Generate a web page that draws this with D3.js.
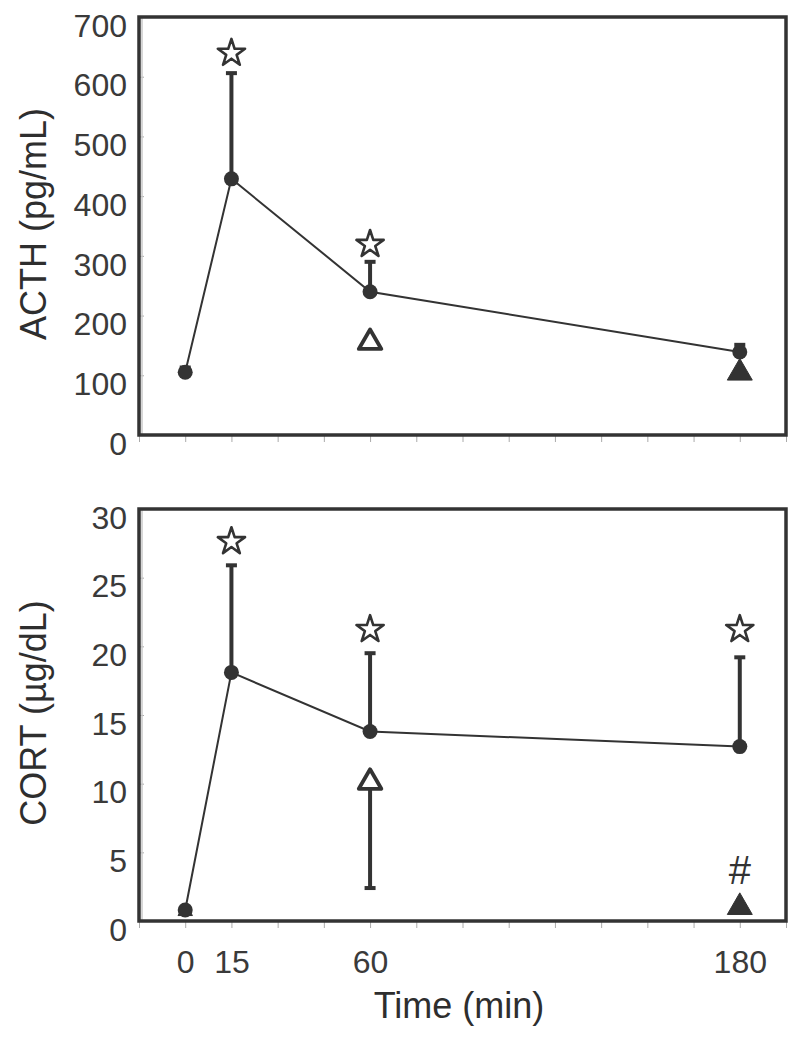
<!DOCTYPE html>
<html>
<head>
<meta charset="utf-8">
<script src="https://cdn.jsdelivr.net/npm/d3@7"></script>
<style>
  html, body { margin: 0; padding: 0; background: #fff; }
  svg { display: block; font-family: "Liberation Sans", Arial, Helvetica, sans-serif; }
</style>
</head>
<body>
<svg id="chart" width="800" height="1040"></svg>
<script>
// ---------- DATA ----------
const timeTicks = [-15, 0, 15, 30, 45, 60, 75, 90, 105, 120, 135, 150, 165, 180, 195];
const timeLabels = [0, 15, 60, 180];

const acthTicks = [0, 100, 200, 300, 400, 500, 600, 700];
const cortTicks = [0, 5, 10, 15, 20, 25, 30];

// main series (filled circles, connected)
const acthTimes = [0, 15, 60, 180];
const acthMean  = [105, 429, 240, 139];
const acthErr   = [113, 606, 290, 151];   // upper end of error bar

const cortTimes = [0, 15, 60, 180];
const cortMean  = [0.8, 18.1, 13.8, 12.7];
const cortErr   = [0.8, 25.9, 19.5, 19.2];

// second group (triangles)
const acthTriTimes  = [60, 180];
const acthTriVals   = [155, 104];
const acthTriFilled = [false, true];
const acthTriErr    = [155, 104];          // error end (none visible)

const cortTriTimes  = [0, 60, 180];
const cortTriVals   = [0.7, 10.1, 1.0];
const cortTriFilled = [true, false, true];
const cortTriErr    = [0.7, 2.4, 1.0];     // lower end of error bar

// significance markers
const acthStarTimes = [15, 60];
const acthStarVals  = [641, 321];
const cortStarTimes = [15, 60, 180];
const cortStarVals  = [27.7, 21.3, 21.3];
const cortHashTimes = [180];
const cortHashVals  = [2.7];

// ---------- LAYOUT ----------
const ink = "#333";
const svg = d3.select("#chart");
const x = d3.scaleLinear().domain([-15, 195]).range([139, 786]);

const panels = [
  { title: "ACTH (pg/mL)", ticks: acthTicks, dom: [0, 700], range: [435, 17],
    times: acthTimes, mean: acthMean, err: acthErr,
    triT: acthTriTimes, triV: acthTriVals, triF: acthTriFilled, triE: acthTriErr,
    starT: acthStarTimes, starV: acthStarVals, hashT: [], hashV: [], labels: false },
  { title: "CORT (\u00B5g/dL)", ticks: cortTicks, dom: [0, 30], range: [921, 509],
    times: cortTimes, mean: cortMean, err: cortErr,
    triT: cortTriTimes, triV: cortTriVals, triF: cortTriFilled, triE: cortTriErr,
    starT: cortStarTimes, starV: cortStarVals, hashT: cortHashTimes, hashV: cortHashVals, labels: true }
];

panels.forEach(p => {
  const y = d3.scaleLinear().domain(p.dom).range(p.range);
  const g = svg.append("g");
  const x0 = x.range()[0], x1 = x.range()[1];
  const yb = y.range()[0], yt = y.range()[1];

  // y ticks (small, inside) + labels
  const yAxis = d3.axisLeft(y).tickValues(p.ticks).tickSizeInner(-5).tickSizeOuter(0).tickPadding(12);
  const ya = g.append("g").attr("transform", `translate(${x0},0)`).call(yAxis);
  ya.select(".domain").remove();
  ya.selectAll(".tick line").attr("stroke", "#aaa").attr("stroke-width", 1);
  ya.selectAll(".tick text").attr("font-size", 32).attr("fill", "#3a3a3a")
    .attr("font-family", "Liberation Sans, Arial, sans-serif").attr("dy", "0.6em");

  // x ticks below frame
  const xAxis = d3.axisBottom(x).tickValues(timeTicks).tickSizeInner(7).tickSizeOuter(0).tickFormat("");
  const xa = g.append("g").attr("transform", `translate(0,${yb})`).call(xAxis);
  xa.select(".domain").remove();
  xa.selectAll(".tick line").attr("stroke", "#aaa").attr("stroke-width", 1);

  if (p.labels) {
    const xl = d3.axisBottom(x).tickValues(timeLabels).tickSize(0).tickPadding(29);
    const xla = g.append("g").attr("transform", `translate(0,${yb})`).call(xl);
    xla.select(".domain").remove();
    xla.selectAll(".tick text").attr("font-size", 32).attr("fill", "#3a3a3a")
      .attr("font-family", "Liberation Sans, Arial, sans-serif");
  }

  // inner light line along the left border
  g.append("line").attr("x1", x0 + 3).attr("x2", x0 + 3).attr("y1", yt).attr("y2", yb)
    .attr("stroke", "#c8c8c8").attr("stroke-width", 1.5);

  // frame
  g.append("rect").attr("x", x0).attr("y", yt).attr("width", x1 - x0).attr("height", yb - yt)
    .attr("fill", "none").attr("stroke", ink).attr("stroke-width", 3.5);

  // y title
  g.append("text").attr("transform", `translate(46,${(yt + yb) / 2 - 2}) rotate(-90)`)
    .attr("text-anchor", "middle").attr("font-size", 36).attr("fill", "#2e2e2e").text(p.title);

  // triangle group error bars
  p.triT.forEach((t, i) => {
    if (p.triE[i] === p.triV[i]) return;
    g.append("line").attr("x1", x(t)).attr("x2", x(t)).attr("y1", y(p.triV[i])).attr("y2", y(p.triE[i]))
      .attr("stroke", ink).attr("stroke-width", 4);
    g.append("rect").attr("x", x(t) - 5.5).attr("y", y(p.triE[i]) - 2).attr("width", 11).attr("height", 4).attr("fill", ink);
  });

  // main error bars
  p.times.forEach((t, i) => {
    if (p.err[i] - p.mean[i] <= 0) return;
    g.append("line").attr("x1", x(t)).attr("x2", x(t)).attr("y1", y(p.mean[i])).attr("y2", y(p.err[i]))
      .attr("stroke", ink).attr("stroke-width", 4);
    g.append("rect").attr("x", x(t) - 5.5).attr("y", y(p.err[i]) - 2).attr("width", 11).attr("height", 4).attr("fill", ink);
  });

  // triangles (the one at time 0 sits behind its circle)
  p.triT.forEach((t, i) => {
    const filled = p.triF[i];
    const sz = t === 0 ? 90 : (filled ? 270 : 220);
    g.append("path")
      .attr("d", d3.symbol().type(d3.symbolTriangle).size(sz)())
      .attr("transform", `translate(${x(t)},${y(p.triV[i])})`)
      .attr("fill", filled ? ink : "#fff")
      .attr("stroke", ink).attr("stroke-width", filled ? 1 : 3.8).attr("stroke-linejoin", "round");
  });

  // line connecting means
  const line = d3.line().x((d, i) => x(p.times[i])).y((d, i) => y(p.mean[i]));
  g.append("path").datum(p.mean).attr("d", line).attr("fill", "none").attr("stroke", ink).attr("stroke-width", 2);

  // circles
  g.selectAll("circle.m").data(p.mean).enter().append("circle")
    .attr("cx", (d, i) => x(p.times[i])).attr("cy", d => y(d)).attr("r", 7.5).attr("fill", ink);

  // stars
  p.starT.forEach((t, i) => {
    g.append("path")
      .attr("d", d3.symbol().type(d3.symbolStar).size(230)())
      .attr("transform", `translate(${x(t)},${y(p.starV[i]) + 1})`)
      .attr("fill", "#fff").attr("stroke", ink).attr("stroke-width", 2.6).attr("stroke-linejoin", "round");
  });

  // hash marks
  p.hashT.forEach((t, i) => {
    g.append("text").attr("x", x(t)).attr("y", y(p.hashV[i]))
      .attr("text-anchor", "middle").attr("font-size", 40).attr("fill", ink).text("#");
  });
});

// x title
svg.append("text").attr("x", 459).attr("y", 1018).attr("text-anchor", "middle")
  .attr("font-size", 36).attr("fill", "#2e2e2e").text("Time (min)");
</script>
</body>
</html>
